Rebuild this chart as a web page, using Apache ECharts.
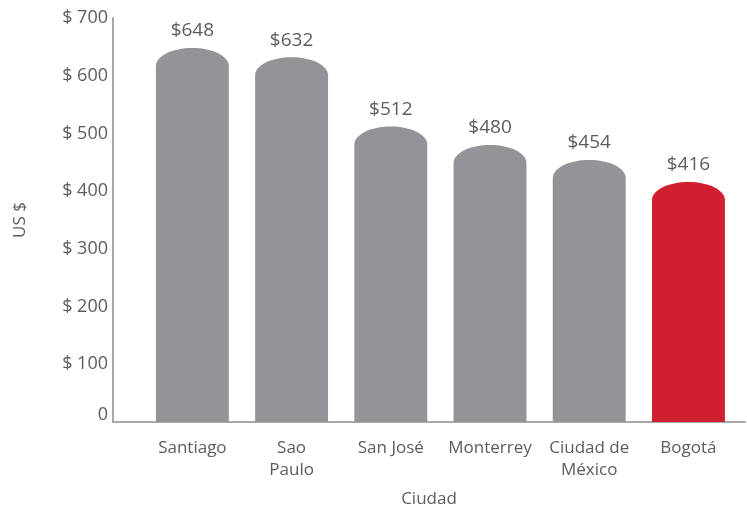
<!DOCTYPE html>
<html>
<head>
    <meta charset="utf-8">
    <title>Costo por ciudad</title>
    <script src="https://cdn.jsdelivr.net/npm/echarts@6/dist/echarts.min.js"></script>
    <style>
        html, body { margin: 0; padding: 0; background: #fff; }
        #chart { width: 747px; height: 510px; }
    </style>
</head>
<body>
    <div id="chart"></div>

    <script>
        var cities = ['Santiago', 'Sao\nPaulo', 'San José', 'Monterrey', 'Ciudad de\nMéxico', 'Bogotá'];
        var costs = [648, 632, 512, 480, 454, 416];
        var yTicks = [0, 100, 200, 300, 400, 500, 600, 700];

        var textColor = '#5b5c5e';
        var font = '"Open Sans", sans-serif';

        var chart = echarts.init(document.getElementById('chart'));

        // bar with an elliptical cap on top
        function renderBar(params, api) {
            var i = api.value(0);
            var base = api.coord([i, 0]);
            var top = api.coord([i, api.value(1)]);
            var w = api.size([1, 0])[0] * 0.735;
            var rx = w / 2, ry = 18, k = 0.5523;
            var x0 = base[0] - rx, x1 = base[0] + rx, cx = base[0];
            var yt = top[1], yb = base[1];
            var d = 'M' + x0 + ' ' + yb +
                ' L' + x0 + ' ' + (yt + ry) +
                ' C' + x0 + ' ' + (yt + ry - ry * k) + ' ' + (cx - rx * k) + ' ' + yt + ' ' + cx + ' ' + yt +
                ' C' + (cx + rx * k) + ' ' + yt + ' ' + x1 + ' ' + (yt + ry - ry * k) + ' ' + x1 + ' ' + (yt + ry) +
                ' L' + x1 + ' ' + yb + ' Z';
            var isBogota = cities[i] === 'Bogotá';
            return {
                type: 'group',
                children: [{
                    type: 'path',
                    shape: { pathData: d },
                    style: { fill: isBogota ? '#d01f2e' : '#929497' }
                }, {
                    type: 'text',
                    x: cx,
                    y: yt - 17,
                    style: {
                        text: '$' + api.value(1),
                        fill: textColor,
                        font: '19px ' + font,
                        align: 'center',
                        verticalAlign: 'middle'
                    }
                }]
            };
        }

        chart.setOption({
            animation: false,
            grid: { left: 113, right: 2, top: 18, bottom: 88, outerBoundsMode: 'none' },
            xAxis: {
                type: 'value',
                min: -0.8,
                max: 5.57,
                name: 'Ciudad',
                nameLocation: 'middle',
                nameGap: 69,
                nameTextStyle: { color: textColor, fontSize: 17, fontFamily: font },
                splitLine: { show: false },
                axisTick: { show: false },
                axisLine: { show: true, onZero: false, lineStyle: { color: '#a7a9ac', width: 2 } },
                axisLabel: {
                    customValues: [0, 1, 2, 3, 4, 5],
                    color: textColor,
                    fontSize: 17,
                    fontFamily: font,
                    lineHeight: 22,
                    margin: 15,
                    formatter: function (v) { return cities[v]; }
                }
            },
            yAxis: {
                type: 'value',
                min: 0,
                max: 700,
                interval: 100,
                name: 'US $',
                nameLocation: 'middle',
                nameGap: 84,
                nameTextStyle: { color: textColor, fontSize: 17, fontFamily: font },
                splitLine: { show: false },
                axisTick: { show: false },
                axisLine: { show: true, onZero: false, lineStyle: { color: '#a7a9ac', width: 2 } },
                axisLabel: {
                    color: textColor,
                    fontSize: 18,
                    fontFamily: font,
                    margin: 5,
                    formatter: function (v) { return v === 0 ? '{z|0}' : '$ ' + v; },
                    rich: { z: { fontSize: 18, fontFamily: font, color: textColor, padding: [0, 0, 14, 0] } }
                }
            },
            series: [{
                type: 'custom',
                renderItem: renderBar,
                encode: { x: 0, y: 1 },
                data: costs.map(function (c, i) { return [i, c]; })
            }]
        });
    </script>
</body>
</html>
